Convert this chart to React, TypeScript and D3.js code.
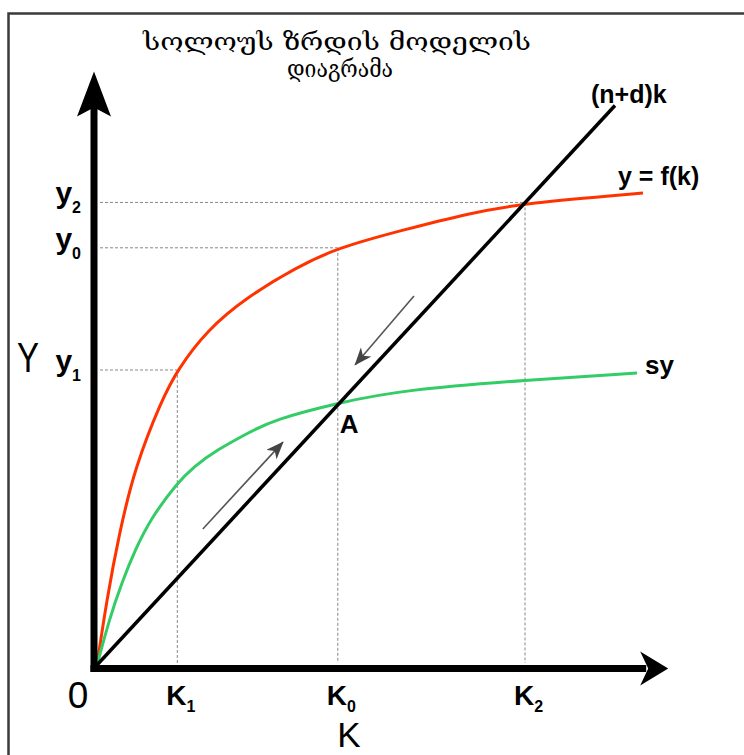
import React from "react";
import * as d3 from "d3";

// y = f(k)
const outputK = [0, 0.173, 0.398, 0.679, 1.155, 1.434, 1.964, 2.679, 3.571, 4.286, 5.464, 6.661, 7.643, 9.75];
const outputY = [0, 1.161, 2.357, 3.536, 4.732, 5.268, 5.982, 6.571, 7.107, 7.446, 7.768, 8.071, 8.25, 8.429];

// sy, the green curve
const savingK = [0, 0.232, 0.441, 0.679, 0.977, 1.434, 1.72, 2.137, 2.732, 3.143, 4.339, 5.464, 7.679, 9.643];
const savingY = [0, 0.857, 1.464, 2.054, 2.643, 3.25, 3.536, 3.839, 4.161, 4.375, 4.69, 4.911, 5.089, 5.214];

// (n+d)k
const breakEvenSlope = 1.08;
const breakEvenK = [0, 9.25];

// dotted guides K1/y1, K0/y0, K2/y2
const guideSub = ["1", "0", "2"];
const guideK = [1.434, 4.3, 7.643];
const guideY = [5.268, 7.45, 8.26];

// small grey arrows along the (n+d)k line
const arrowFromK = [1.89, 5.66];
const arrowFromY = [2.43, 6.59];
const arrowToK = [3.32, 4.61];
const arrowToY = [3.98, 5.36];

const titleLines = ["სოლოუს ზრდის მოდელის", "დიაგრამა"];

const W = 744;
const H = 755;
const labelFont = "'Liberation Sans', Arial, sans-serif";

export default function App() {
  const x = d3.scaleLinear().domain([0, 10]).range([97, 657]);
  const y = d3.scaleLinear().domain([0, 10]).range([665, 105]);

  const curve = d3
    .line<[number, number]>()
    .x((d) => x(d[0]))
    .y((d) => y(d[1]))
    .curve(d3.curveBasis);
  const straight = d3
    .line<[number, number]>()
    .x((d) => x(d[0]))
    .y((d) => y(d[1]));

  const redPts = outputK.map((k, i) => [k, outputY[i]] as [number, number]);
  const greenPts = savingK.map((k, i) => [k, savingY[i]] as [number, number]);
  const blackPts = breakEvenK.map((k) => [k, k * breakEvenSlope] as [number, number]);

  // axes sit just outside the data origin
  const ax = x(0) - 3;
  const ay = y(0) + 3.5;
  const yTip = y(10.6);
  const xTip = x(10.2);

  const lastRed = redPts[redPts.length - 1];
  const lastGreen = greenPts[greenPts.length - 1];
  const lastBlack = blackPts[blackPts.length - 1];
  const aK = guideK[1];

  return (
    <svg width={W} height={H} style={{ position: "absolute", left: 0, top: 0, background: "#fff" }}>
      <defs>
        <marker id="grey-head" viewBox="0 0 18 14" refX="17" refY="7" markerWidth="18" markerHeight="14"
          markerUnits="userSpaceOnUse" orient="auto">
          <path d="M0,0 L18,7 L0,14 L5,7 Z" fill="#444" />
        </marker>
      </defs>

      {/* frame */}
      <path d={`M8.5,${H} V13.5 H${W}`} fill="none" stroke="#3a3a3a" strokeWidth={2.5} />

      {/* title */}
      <g fontFamily="'DejaVu Serif', 'DejaVu Sans', serif" fontSize={25} fill="#000" textAnchor="middle">
        <text x={337} y={50} textLength={388} lengthAdjust="spacingAndGlyphs">{titleLines[0]}</text>
        <text x={340} y={77} textLength={106} lengthAdjust="spacingAndGlyphs">{titleLines[1]}</text>
      </g>

      {/* dotted guides */}
      <g stroke="#888" strokeWidth={1} strokeDasharray="3,2" fill="none">
        {guideK.map((k, i) => (
          <g key={i}>
            <line x1={x(0) + 3} x2={x(k)} y1={y(guideY[i])} y2={y(guideY[i])} />
            <line x1={x(k)} x2={x(k)} y1={y(guideY[i])} y2={y(0) - 2} />
          </g>
        ))}
      </g>

      {/* curves */}
      <path d={curve(redPts) ?? ""} fill="none" stroke="#ff3300" strokeWidth={3} />
      <path d={curve(greenPts) ?? ""} fill="none" stroke="#33cc66" strokeWidth={3} />
      <path d={straight(blackPts) ?? ""} fill="none" stroke="#000" strokeWidth={3.5} />

      {/* direction arrows */}
      {arrowFromK.map((k, i) => (
        <line key={i} x1={x(k)} y1={y(arrowFromY[i])} x2={x(arrowToK[i])} y2={y(arrowToY[i])}
          stroke="#555" strokeWidth={1.6} markerEnd="url(#grey-head)" />
      ))}

      {/* axes */}
      <line x1={ax} x2={ax} y1={ay + 3.5} y2={yTip + 30} stroke="#000" strokeWidth={7} />
      <line x1={ax - 3.5} x2={xTip - 22} y1={ay} y2={ay} stroke="#000" strokeWidth={7} />
      <path d={`M${ax},${yTip} L${ax + 17},${yTip + 45} L${ax},${yTip + 36} L${ax - 17},${yTip + 45} Z`} fill="#000" />
      <path d={`M${xTip},${ay} L${xTip - 28},${ay - 17} L${xTip - 20},${ay} L${xTip - 28},${ay + 17} Z`} fill="#000" />

      {/* value labels */}
      <g fontFamily={labelFont} fontWeight="bold" fill="#000">
        {guideY.map((v, i) => (
          <text key={i} x={81} y={y(v) + 1} textAnchor="end" fontSize={30}>
            y<tspan fontSize={16} dy={10}>{guideSub[i]}</tspan>
          </text>
        ))}
        {guideK.map((k, i) => (
          <text key={i} x={x(k) - 11} y={705} fontSize={28}>
            K<tspan fontSize={16} dy={7}>{guideSub[i]}</tspan>
          </text>
        ))}
        <text x={x(lastBlack[0]) - 24} y={y(lastBlack[1]) - 3} fontSize={25}>(n+d)k</text>
        <text x={x(lastRed[0]) - 25} y={y(lastRed[1]) - 8} fontSize={25}>y = f(k)</text>
        <text x={x(lastGreen[0]) + 8} y={y(lastGreen[1]) + 1} fontSize={26}>sy</text>
        <text x={x(aK) + 2} y={y(aK * breakEvenSlope) + 28} fontSize={26}>A</text>
      </g>

      {/* axis names */}
      <g fontFamily={labelFont} fill="#000">
        <text x={17} y={372} fontSize={42} textLength={22} lengthAdjust="spacingAndGlyphs">Y</text>
        <text x={x(4.5)} y={747} fontSize={35} textAnchor="middle">K</text>
        <text x={78} y={708} fontSize={37} textAnchor="middle">0</text>
      </g>
    </svg>
  );
}
